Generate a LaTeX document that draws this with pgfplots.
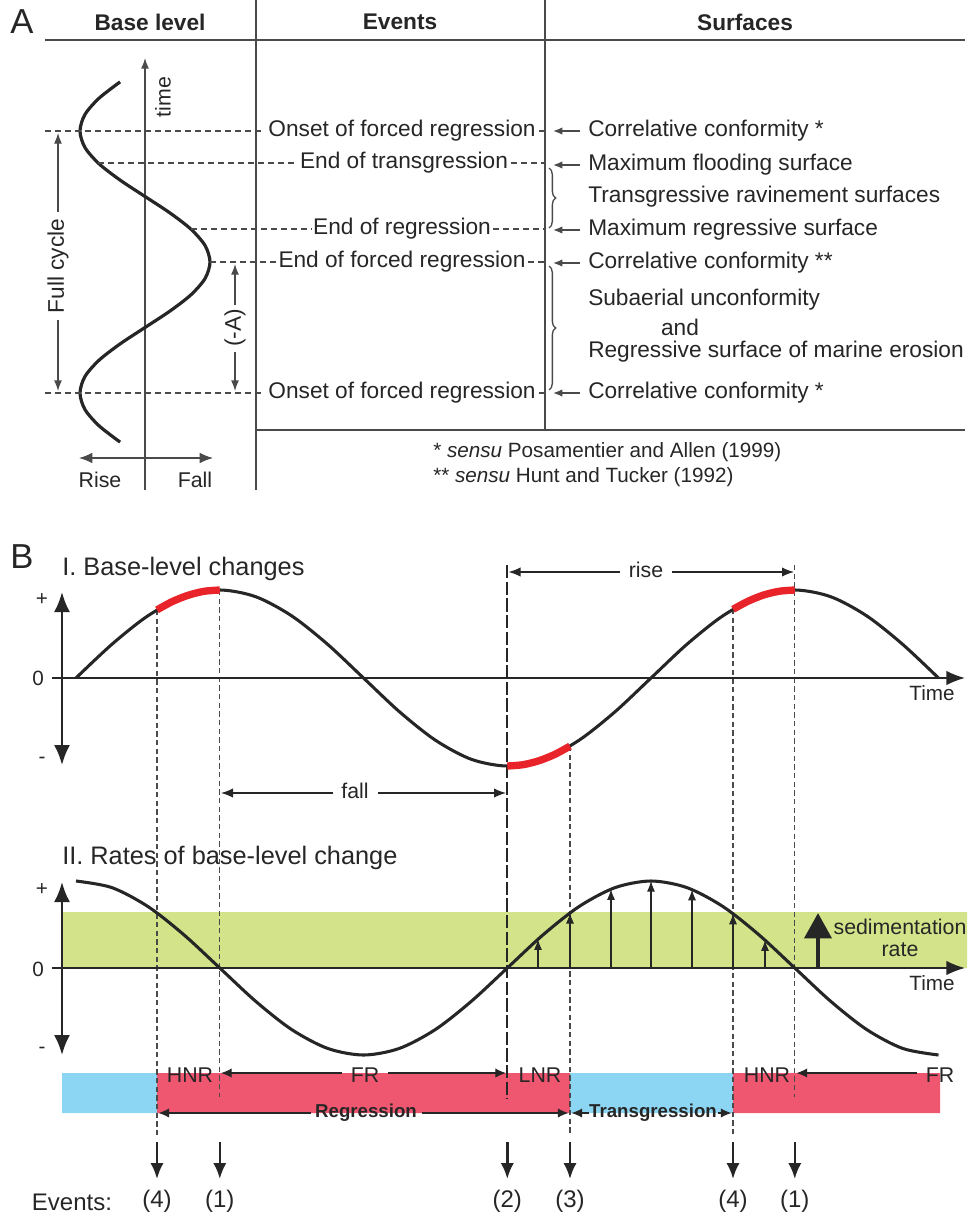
\documentclass[border=0pt]{standalone}
\usepackage{fontspec}
\setmainfont{Liberation Sans}
\usepackage{pgfplots}
\pgfplotsset{compat=1.18}
\usetikzlibrary{arrows.meta,decorations.pathreplacing}
\definecolor{ink}{HTML}{262626}
\definecolor{gline}{HTML}{4A4A4A}
\definecolor{rband}{HTML}{EF5670}
\definecolor{bband}{HTML}{8CD6F4}
\definecolor{gband}{HTML}{D3E38A}
\definecolor{redseg}{HTML}{E8242A}
\newcommand\fA{\fontsize{17}{19.5}\selectfont}
\newcommand\fH{\fontsize{17}{19.5}\selectfont\bfseries}
\newcommand\fN{\fontsize{15.5}{18}\selectfont}
\newcommand\fT{\fontsize{19}{22}\selectfont}
\newcommand\fL{\fontsize{26}{28}\selectfont}
\newcommand\fS{\fontsize{16}{18}\selectfont}
\newcommand\fE{\fontsize{18}{20}\selectfont}
\newcommand\fX{\fontsize{15.5}{18}\selectfont}
\newcommand\fB{\fontsize{14}{16}\selectfont\bfseries}
\tikzset{
  dashA/.style={gline, line width=0.9pt, dash pattern=on 4.5pt off 3pt},
  dashB/.style={gline, line width=0.8pt, dash pattern=on 4pt off 2.5pt},
  thinar/.style={gline, line width=1pt, -{Latex[length=8pt,width=6pt]}},
  surfar/.style={gline, line width=1pt, -{Latex[length=7pt,width=5.5pt]}},
  sedar/.style={ink, line width=0.8pt, -{Latex[length=8pt,width=6pt]}},
  evar/.style={ink, line width=1.9pt, -{Latex[length=12pt,width=10pt]}},
  barar/.style={ink, line width=0.9pt, -{Latex[length=8pt,width=7pt]}},
  dblax/.style={ink, line width=1.8pt, {Latex[length=15pt,width=12pt]}-{Latex[length=15pt,width=12pt]}},
  hax/.style={ink, line width=1.4pt, -{Latex[length=14pt,width=11pt]}},
}
\begin{document}
\begin{tikzpicture}[every node/.style={text=ink, inner sep=0pt}]
\begin{axis}[
  scale only axis, width=725.25pt, height=912pt,
  xmin=0, xmax=967, ymin=0, ymax=1216, y dir=reverse,
  hide axis, clip=false,
]
\coordinate (BL) at (axis cs:0,1216);
\coordinate (TR) at (axis cs:967,0);
% ================= PANEL A =================
\node[font=\fL] at (22,22) {A};
\node[font=\fH] at (150,22) {Base level};
\node[font=\fH] at (400,22) {Events};
\node[font=\fH] at (745,22) {Surfaces};
\draw[gline, line width=1.3pt] (45,40) -- (965,40);
\draw[gline, line width=1pt] (256,0) -- (256,490);
\draw[gline, line width=1pt] (545,0) -- (545,430);
\draw[gline, line width=1pt] (256,430) -- (965,430);
% base level column
\draw[thinar] (145,490) -- (145,58);
\node[rotate=90, font=\fS] at (163,97) {time};
\addplot[ink, line width=2.4pt, smooth, no markers] coordinates {
(120.1,81.9) (99,98.25) (84.9,114.6) (80,131) (84.9,147.4) (99,163.75) (120.1,180.1) (145,196.5) (169.9,212.9) (191,229.25) (205.1,245.6) (210,262) (205.1,278.4) (191,294.75) (169.9,311.1) (145,327.5) (120.1,343.9) (99,360.25) (84.9,376.6) (80,393) (84.9,409.4) (99,425.75) (120.1,442.1)};
\draw[thinar] (58,212) -- (58,133);
\node[rotate=90, font=\fA] at (58,266) {Full cycle};
\draw[thinar] (58,320) -- (58,391);
\draw[thinar] (235,305) -- (235,264);
\node[rotate=90, font=\fA] at (235,328) {(-A)};
\draw[thinar] (235,352) -- (235,391);
\draw[gline, line width=1pt, {Latex[length=10pt,width=8pt]}-{Latex[length=10pt,width=8pt]}] (79,458) -- (213,458);
\node[font=\fS] at (100,480) {Rise};
\node[font=\fS] at (195,480) {Fall};
% dashed event lines
\draw[dashA] (45,131) -- (264,131);  \draw[dashA] (539,131) -- (545,131);
\draw[dashA] (98,163) -- (297,163);  \draw[dashA] (511,163) -- (545,163);
\draw[dashA] (191,229) -- (312,229); \draw[dashA] (493,229) -- (545,229);
\draw[dashA] (210,262) -- (277,262); \draw[dashA] (528,262) -- (545,262);
\draw[dashA] (45,393) -- (264,393);  \draw[dashA] (539,393) -- (545,393);
% events text
\node[font=\fA] at (402,131) {Onset of forced regression};
\node[font=\fA] at (404,163) {End of transgression};
\node[font=\fA] at (402,229) {End of regression};
\node[font=\fA] at (402,262) {End of forced regression};
\node[font=\fA] at (402,393) {Onset of forced regression};
% surfaces
\draw[surfar] (580,131) -- (553,131);
\draw[surfar] (580,165) -- (553,165);
\draw[surfar] (580,230) -- (553,230);
\draw[surfar] (580,263) -- (553,263);
\draw[surfar] (580,393) -- (553,393);
\draw[gline, line width=1pt, decorate, decoration={brace, amplitude=5pt}] (549,168) -- (549,228);
\draw[gline, line width=1pt, decorate, decoration={brace, amplitude=5pt}] (549,266) -- (549,390);
\node[font=\fA, anchor=west] at (588,131) {Correlative conformity *};
\node[font=\fA, anchor=west] at (588,165) {Maximum flooding surface};
\node[font=\fA, anchor=west] at (588,197) {Transgressive ravinement surfaces};
\node[font=\fA, anchor=west] at (588,230) {Maximum regressive surface};
\node[font=\fA, anchor=west] at (588,263) {Correlative conformity **};
\node[font=\fA, anchor=west] at (588,300) {Subaerial unconformity};
\node[font=\fA] at (680,327) {and};
\node[font=\fA, anchor=west] at (588,352) {Regressive surface of marine erosion};
\node[font=\fA, anchor=west] at (588,393) {Correlative conformity *};
\node[font=\fN, anchor=west] at (433,452) {* \textit{sensu} Posamentier and Allen (1999)};
\node[font=\fN, anchor=west] at (433,477) {** \textit{sensu} Hunt and Tucker (1992)};
% ================= PANEL B =================
\node[font=\fL] at (22,557) {B};
\node[font=\fT, anchor=west] at (62,569) {I. Base-level changes};
\node[font=\fT, anchor=west] at (62,858) {II. Rates of base-level change};
% green band and bars
\addplot[fill=gband, draw=none] coordinates {(62,912) (967,912) (967,968) (62,968) (62,912)};
\addplot[fill=bband, draw=none] coordinates {(62,1073) (157,1073) (157,1113) (62,1113) (62,1073)};
\addplot[fill=rband, draw=none] coordinates {(157,1073) (570,1073) (570,1113) (157,1113) (157,1073)};
\addplot[fill=bband, draw=none] coordinates {(570,1073) (733,1073) (733,1113) (570,1113) (570,1073)};
\addplot[fill=rband, draw=none] coordinates {(733,1073) (940,1073) (940,1113) (733,1113) (733,1073)};
% vertical dashed guides
\draw[dashB] (157,610) -- (157,1135);
\draw[dashB] (219.8,590) -- (219.8,1097);
\draw[dashB] (570,746) -- (570,1135);
\draw[dashB] (733,609) -- (733,1135);
\draw[dashB] (794.8,565) -- (794.8,1097);
\draw[ink, line width=1.6pt, dash pattern=on 10pt off 2.5pt] (507.3,565) -- (507.3,1099);
% axes
\draw[dblax] (62,592) -- (62,765);
\draw[hax] (52,678) -- (965,678);
\draw[dblax] (62,882) -- (62,1055);
\draw[hax] (52,968) -- (965,968);
\node[font=\fX] at (42,600) {+};
\node[font=\fX] at (38,678) {0};
\node[font=\fX] at (42,760) {-};
\node[font=\fX] at (42,890) {+};
\node[font=\fX] at (38,969) {0};
\node[font=\fX] at (42,1050) {-};
\node[font=\fX] at (932,693) {Time};
\node[font=\fX] at (932,983) {Time};
% curve I
\addplot[ink, line width=2.3pt, smooth, no markers] coordinates {
(76,678) (111.9,644.3) (147.9,615.8) (183.8,596.7) (219.8,590) (255.7,596.7) (291.6,615.8) (327.6,644.3) (363.5,678) (399.4,711.7) (435.4,740.2) (471.3,759.3) (507.3,766) (543.2,759.3) (579.1,740.2) (615.1,711.7) (651,678) (686.9,644.3) (722.9,615.8) (758.8,596.7) (794.8,590) (830.7,596.7) (866.6,615.8) (902.6,644.3) (938.5,678)};
\addplot[redseg, line width=5.5pt, smooth, no markers] coordinates {(157,609.9) (172,601.7) (188,595.3) (204,591.3) (219.8,590)};
\addplot[redseg, line width=5.5pt, smooth, no markers] coordinates {(507.3,766) (523,764.7) (539,760.7) (555,754.3) (570,746.1)};
\addplot[redseg, line width=5.5pt, smooth, no markers] coordinates {(733,609.3) (748.5,601) (764,594.9) (779.5,591.2) (794.8,590)};
% rise / fall
\draw[ink, line width=0.9pt, -{Latex[length=9pt,width=7pt]}] (620,572) -- (508.5,572);
\draw[ink, line width=0.9pt, -{Latex[length=9pt,width=7pt]}] (672,572) -- (794,572);
\node[font=\fS] at (646,570) {rise};
\draw[ink, line width=0.9pt, -{Latex[length=9pt,width=7pt]}] (333,793) -- (221,793);
\draw[ink, line width=0.9pt, -{Latex[length=9pt,width=7pt]}] (378,793) -- (506,793);
\node[font=\fS] at (355,791) {fall};
% curve II
\addplot[ink, line width=2.3pt, smooth, no markers] coordinates {
(76,881) (111.9,887.6) (147.9,906.5) (183.8,934.7) (219.8,968) (255.7,1001.3) (291.6,1029.5) (327.6,1048.4) (363.5,1055) (399.4,1048.4) (435.4,1029.5) (471.3,1001.3) (507.3,968) (543.2,934.7) (579.1,906.5) (615.1,887.6) (651,881) (686.9,887.6) (722.9,906.5) (758.8,934.7) (794.8,968) (830.7,1001.3) (866.6,1029.5) (902.6,1048.4) (938.5,1055)};
% sedimentation arrows
\draw[sedar] (538,968) -- (538,939.3);
\draw[sedar] (570,968) -- (570,912.9);
\draw[sedar] (611,968) -- (611,889.2);
\draw[sedar] (651,968) -- (651,881);
\draw[sedar] (692,968) -- (692,889.6);
\draw[sedar] (733,968) -- (733,913.6);
\draw[sedar] (765,968) -- (765,940.2);
\draw[ink, line width=3.5pt, -{Triangle[length=19pt,width=20pt]}] (818,968) -- (818,913);
\node[font=\fS] at (900,927) {sedimentation};
\node[font=\fS] at (900,950) {rate};
% bar labels
\node[font=\fS] at (190,1075) {HNR};
\draw[barar] (342,1073) -- (221,1073);
\draw[barar] (388,1073) -- (506,1073);
\node[font=\fS] at (365,1075) {FR};
\node[font=\fS] at (540,1075) {LNR};
\node[font=\fS] at (767,1075) {HNR};
\draw[barar] (917,1073) -- (796.5,1073);
\node[font=\fS] at (940,1075) {FR};
\draw[barar] (311,1113) -- (158.5,1113);
\draw[barar] (422,1113) -- (568.5,1113);
\node[font=\fB] at (366,1113) {Regression};
\draw[barar] (589,1113) -- (571.5,1113);
\draw[barar] (718,1113) -- (731.5,1113);
\node[font=\fB] at (653,1113) {Transgression};
% events
\draw[evar] (157,1142) -- (157,1179);
\draw[evar] (219.8,1142) -- (219.8,1179);
\draw[evar] (507.3,1142) -- (507.3,1179);
\draw[evar] (570,1142) -- (570,1179);
\draw[evar] (733,1142) -- (733,1179);
\draw[evar] (794.8,1142) -- (794.8,1179);
\node[font=\fE] at (157,1201) {(4)};
\node[font=\fE] at (219.8,1201) {(1)};
\node[font=\fE] at (507.3,1201) {(2)};
\node[font=\fE] at (570,1201) {(3)};
\node[font=\fE] at (733,1201) {(4)};
\node[font=\fE] at (794.8,1201) {(1)};
\node[font=\fE] at (72,1202) {Events:};
\end{axis}
\pgfresetboundingbox
\useasboundingbox (BL) rectangle (TR);
\end{tikzpicture}
\end{document}
